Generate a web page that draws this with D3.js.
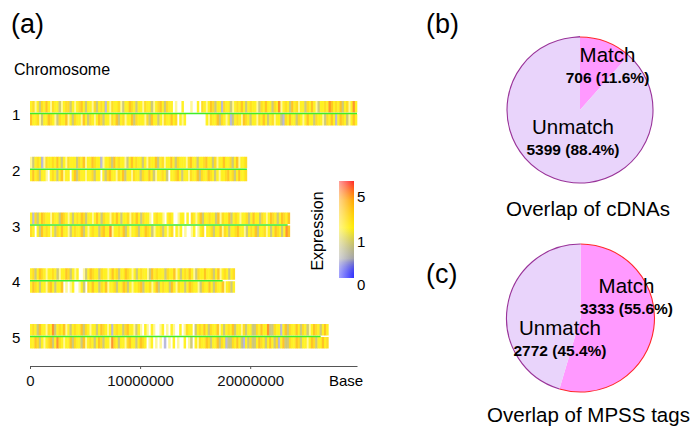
<!DOCTYPE html>
<html>
<head>
<meta charset="utf-8">
<script src="https://cdn.jsdelivr.net/npm/d3@7"></script>
<style>
  body { margin: 0; background: #fff; }
  svg { display: block; font-family: Arial, "Liberation Sans", Helvetica, sans-serif; }
</style>
</head>
<body>
<svg id="chart" width="700" height="432"></svg>
<script>
/* Chromosome expression map + two overlap pies */

// chromosome names and lengths (Mb)
const CHROMOSOMES = ['1', '2', '3', '4', '5'];
const CHR_LENGTH = [29.7, 19.7, 23.6, 18.6, 27.1];
const GREEN_END = [29.7, 19.7, 23.4, 17.5, 26.4];

// expression per bin, one char per bin
// . none, p faint, b very low, k low, y ~1, g mid, o high, r very high
const TOP_STRAND = [
  'ygpykgyoyp' + 'gyykpyggky' + 'pygoykyypg' + 'kygybypgyy' + 'gpkyyogyky' + 'ypgyykpygo' + 'ykgyy.p..y' + '...p..y.gy' +
  'pyogkyybgy' + 'ykpygyoyky' + 'gyypkgyoyy' + 'kgyrpygyko' + 'ygpyykgyoy' + 'pkyygyroyg' + 'yokygpyry',
  'pkygybpgyy' + 'gyoykypgyy' + 'ykgyopyyog' + 'yybpyygkoy' + 'gyypkyoygy' + 'ykypgyyoky' + 'gpyyoykgyy' + 'ypgoyykyyg' +
  'oyykgpyyoy' + 'ygkyopyyg',
  'ybgkyogyyp' + 'gyykogypyk' + 'ygyogkyypy' + 'oykgyypgyo' + 'ykyygpgyoy' + 'kgyyp.ygyy' + 'p.ygy..pyy' + '.y.gypyoky' +
  'ygyykopgyy' + 'okygypyygk' + 'yoyykgypyo' + 'gykyogyo',
  'ygkyogypyy' + 'gykpyyogky' + 'py..pkyogy' + 'ykgyypyoyg' + 'kyyogypyky' + 'gyypkoygyy' + 'ykgyyopyky' + 'gyoypkgyyo' +
  'yygkyopygy' + 'kyg',
  'ygykoyypgy' + 'rkygyopyky' + 'gyyokgypyy' + 'kyogypybyg' + 'yykgoyypky' + 'p.yp.yp..p' + 'y.p.yp..y.' + 'pgyy.kygyo' +
  'ykgyyopyky' + 'gyokyypgky' + 'ykkgyoyyrk' + 'kgyybyokgy' + 'yoykgykpyo' + 'gykyoy'
];
const BOTTOM_STRAND = [
  'oyygpkyyog' + 'ypkgyyopyk' + 'gyypoykgyp' + 'yogkyypgyo' + 'kygpyyokgy' + 'yypgkoyyky' + 'pgyyoyg.yp' + 'y.........' +
  'ypgyyokgyp' + 'ybkygypogy' + 'kyypgyoyky' + 'gpyykbgyoy' + 'ykgypyoyyk' + 'gyypkgyoyb' + 'yogykpyoy',
  'yoygkyyp.y' + 'gykyopyy.y' + 'okgyypyygk' + 'yy.ykgoyyp' + 'gyokyypgyy' + 'kgyyoykpyy' + 'gyk.yygoyk' + 'yypgyyokgy' +
  'yogykypyyg' + 'oygkyoyyg',
  'gy.ykoygyp' + 'ykgyoyypky' + 'gyyokypygy' + 'ykgoyyrpyy' + 'gyokypyygk' + 'yyogykpyyg' + 'kypyg.ypy.' + 'p..py.pyg.' +
  'yygkyyopgy' + 'kyygoyypky' + 'gyokyygpyk' + 'yogykyro',
  'yogykyypgo' + 'ykyyo.p.py' + '..pyk.gyoy' + 'ykgyopyygk' + 'yyogkypyyg' + 'okyygpyoky' + 'gyykoypgyy' + 'kyogyypkgy' +
  'yoykgyyopy' + 'gky',
  'yyogkypygo' + 'kyrgypyyok' + 'gyykopygyk' + 'yogkyyprgy' + 'kyypgoyyky' + 'ogy.py.p.p' + '.b.p.y.p..' + 'y.pk.ypgyy' +
  'ogkyyokgyb' + 'kkgyoykbyk' + 'gkkyogykyo' + 'ykgbyokkgy' + 'yogkyypyog' + 'kyyoyg'
];
const CODE_LEVEL = { b: 0.22, k: 0.9, y: 1.9, g: 2.8, o: 3.9, r: 5.4, p: 1.9 };
const CODE_ALPHA = { b: 0.55, p: 0.4 };

const AXIS_TICKS = [0, 10000000, 20000000];
const LEGEND_TICKS = [0, 1, 5];

// pies
const PIE_LABELS = ['Match', 'Unmatch'];
const CDNA_COUNTS = [706, 5399];
const CDNA_PCT = ['11.6%', '88.4%'];
const MPSS_COUNTS = [3333, 2772];
const MPSS_PCT = ['55.6%', '45.4%'];

const svg = d3.select('#chart');
svg.append('rect').attr('width', 700).attr('height', 432).attr('fill', '#fff');

const x = d3.scaleLinear().domain([0, 29.7e6]).range([30, 357]);
const row = d3.scalePoint().domain(CHROMOSOMES).range([113, 336]);
const legendY = d3.scaleSqrt().domain([0, 7.25]).range([278, 181]);
const color = d3.scaleLinear()
  .domain([0, 0.3, 1.9, 4.7, 7.25])
  .range(['#3030ff', '#a3a3a3', '#ffee00', '#ffa500', '#ff2626']);

// panel letters
svg.append('text').attr('x', 11).attr('y', 33).attr('font-size', 27).text('(a)');
svg.append('text').attr('x', 426).attr('y', 33).attr('font-size', 27).text('(b)');
svg.append('text').attr('x', 426).attr('y', 283).attr('font-size', 27).text('(c)');
svg.append('text').attr('x', 14).attr('y', 75).attr('font-size', 16).text('Chromosome');

// chromosome rows
CHROMOSOMES.forEach((name, i) => {
  const cy = row(name);
  const g = svg.append('g');
  [[TOP_STRAND[i], -12], [BOTTOM_STRAND[i], 1]].forEach(([codes, off]) => {
    const step = CHR_LENGTH[i] * 1e6 / codes.length;
    const bins = codes.split('').map((c, j) => ({ c, j })).filter((d) => d.c !== '.');
    g.append('g').selectAll('rect')
      .data(bins)
      .join('rect')
      .attr('x', (d) => x(d.j * step))
      .attr('width', (d) => x((d.j + 1) * step) - x(d.j * step) + 0.3)
      .attr('y', cy + off)
      .attr('height', 11.5)
      .attr('fill', (d) => color(CODE_LEVEL[d.c]))
      .attr('fill-opacity', (d) => CODE_ALPHA[d.c] || 0.85);
  });
  g.append('line')
    .attr('x1', x(0)).attr('x2', x(GREEN_END[i] * 1e6))
    .attr('y1', cy + 0.5).attr('y2', cy + 0.5)
    .attr('stroke', '#3ded2a').attr('stroke-width', 1.6);
  svg.append('text').attr('x', 12).attr('y', cy + 7).attr('font-size', 15).text(name);
});

// base axis
const axis = d3.axisBottom(x)
  .tickValues(AXIS_TICKS)
  .tickFormat(d3.format('d'))
  .tickSize(3)
  .tickSizeOuter(0)
  .tickPadding(6);
const ax = svg.append('g').attr('transform', 'translate(0,366)').call(axis);
ax.attr('font-family', null).attr('font-size', 15);
ax.selectAll('path, line').attr('stroke', '#555');
ax.selectAll('text').attr('fill', '#111');
svg.append('text').attr('x', 329).attr('y', 386).attr('font-size', 15).text('Base');

// colour legend
const defs = svg.append('defs');
const grad = defs.append('linearGradient').attr('id', 'expr-grad')
  .attr('x1', 0).attr('y1', 1).attr('x2', 0).attr('y2', 0);
d3.range(0, 1.0001, 0.04).forEach((t) => {
  const v = legendY.invert(278 - t * 97);
  grad.append('stop').attr('offset', t).attr('stop-color', color(v));
});
const fade = defs.append('linearGradient').attr('id', 'expr-fade')
  .attr('x1', 0).attr('y1', 0).attr('x2', 1).attr('y2', 0);
fade.append('stop').attr('offset', 0).attr('stop-color', '#fff').attr('stop-opacity', 0.55);
fade.append('stop').attr('offset', 1).attr('stop-color', '#fff').attr('stop-opacity', 0);

svg.append('rect').attr('x', 339).attr('y', 181).attr('width', 15).attr('height', 97)
  .attr('fill', 'url(#expr-grad)');
svg.append('rect').attr('x', 339).attr('y', 181).attr('width', 15).attr('height', 97)
  .attr('fill', 'url(#expr-fade)');
svg.append('g').selectAll('text')
  .data(LEGEND_TICKS)
  .join('text')
  .attr('x', 357)
  .attr('y', (d) => (d === 0 ? legendY(d) + 12 : legendY(d) + 5))
  .attr('font-size', 15)
  .text((d) => d);
svg.append('text')
  .attr('transform', 'translate(323,231) rotate(-90)')
  .attr('text-anchor', 'middle')
  .attr('font-size', 16)
  .text('Expression');

// pies
const pie = d3.pie().sort(null).value((d) => d.count);
const FILLS = ['#ff99ff', '#e9d4fb'];
const EDGES = ['#ff2a2a', '#993399'];

function drawPie(cfg) {
  const data = PIE_LABELS.map((label, k) => ({ label, count: cfg.counts[k], pct: cfg.pct[k] }));
  const arcs = pie(data);
  const g = svg.append('g').attr('transform', 'translate(' + cfg.cx + ',' + cfg.cy + ')');
  const fill = d3.arc().innerRadius(0).outerRadius(cfg.r);
  const edge = d3.arc().innerRadius(cfg.r).outerRadius(cfg.r);
  g.selectAll('path.slice').data(arcs).join('path')
    .attr('class', 'slice')
    .attr('d', fill)
    .attr('fill', (d, k) => FILLS[k]);
  g.selectAll('path.edge').data(arcs).join('path')
    .attr('class', 'edge')
    .attr('d', edge)
    .attr('fill', 'none')
    .attr('stroke', (d, k) => EDGES[k])
    .attr('stroke-width', 1.1);

  data.forEach((d, k) => {
    const [lx, ly] = cfg.labelAt[k];
    svg.append('text').attr('x', lx).attr('y', ly).attr('text-anchor', 'middle')
      .attr('font-size', 20.5).text(d.label);
    svg.append('text').attr('x', lx).attr('y', ly + 21).attr('text-anchor', 'middle')
      .attr('font-size', 15.5).attr('font-weight', 'bold')
      .text(d.count + ' (' + d.pct + ')');
  });
  svg.append('text').attr('x', cfg.cx + 8).attr('y', cfg.titleY).attr('text-anchor', 'middle')
    .attr('font-size', 20.5).text(cfg.title);
}

drawPie({
  cx: 580, cy: 110, r: 73, counts: CDNA_COUNTS, pct: CDNA_PCT,
  labelAt: [[607.5, 62], [573, 133.5]], title: 'Overlap of cDNAs', titleY: 216
});
drawPie({
  cx: 580.5, cy: 318, r: 74, counts: MPSS_COUNTS, pct: MPSS_PCT,
  labelAt: [[626.5, 292.5], [560, 334.5]], title: 'Overlap of MPSS tags', titleY: 422
});
</script>
</body>
</html>
